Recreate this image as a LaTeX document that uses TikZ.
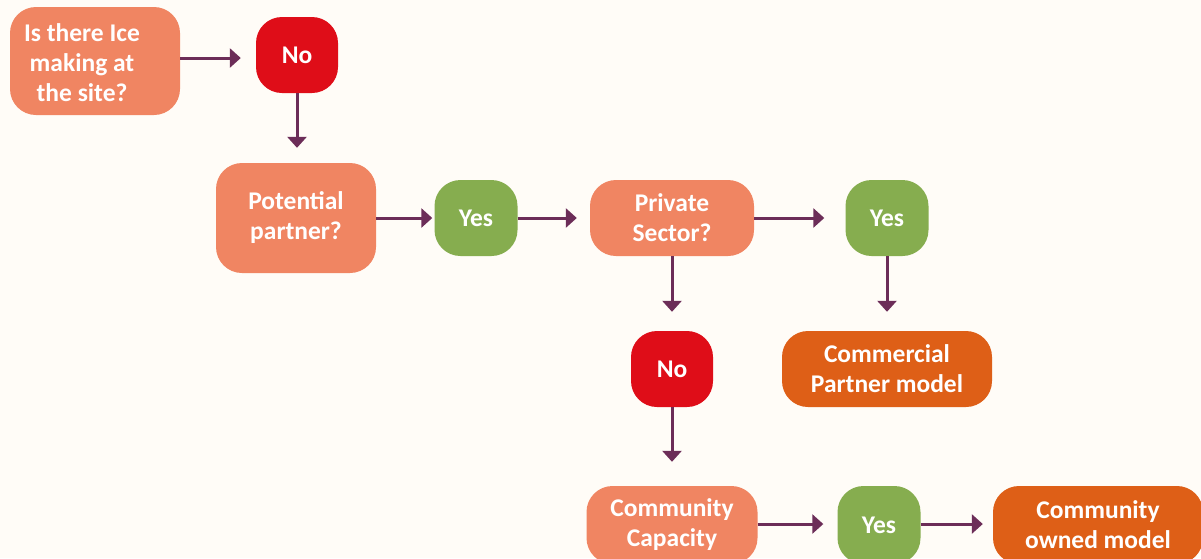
\documentclass[tikz,border=0pt]{standalone}
\usepackage{fontspec}
\setmainfont{Carlito}
\usetikzlibrary{arrows.meta,calc,positioning}

\definecolor{bgcol}{HTML}{FFFCF7}
\definecolor{salmon}{HTML}{F08562}
\definecolor{redbox}{HTML}{DF0D18}
\definecolor{greenbox}{HTML}{86AD4F}
\definecolor{orangebox}{HTML}{DE5F17}
\definecolor{arrowcol}{HTML}{6C2D58}

\begin{document}
\begin{tikzpicture}[x=1pt, y=-1pt,
    box/.style={rounded corners=26pt, inner sep=0pt, align=center, text=white,
                font=\fontsize{25.5}{30}\selectfont\bfseries},
    question/.style={box, fill=salmon},
    nobox/.style={box, fill=redbox, minimum width=82pt, minimum height=76pt},
    yesbox/.style={box, fill=greenbox, minimum width=83pt, minimum height=76pt},
    model/.style={box, fill=orangebox, minimum height=76pt},
    flow/.style={draw=arrowcol, line width=3pt, -{Triangle[length=11pt, width=19pt]}}]

    \useasboundingbox (0,0) rectangle (1201,558);
    \fill[bgcol] (0,0) rectangle (1201,558);

    \node[question, minimum width=170pt, minimum height=108pt] at (95, 61) (ice)
        {\begin{tabular}{@{}c@{}}\rule{0pt}{29pt}Is there Ice\\making at\\the site?\end{tabular}\kern26pt};
    \node[nobox] at (297, 55) (no1) {No};
    \node[question, minimum width=160pt, minimum height=110pt] at (296, 218) (partner) {Potential\\partner?};
    \node[yesbox] at (476, 218) (yes1) {Yes};
    \node[question, minimum width=164pt, minimum height=76pt] at (672, 218) (private) {Private\\Sector?};
    \node[yesbox] at (887, 218) (yes2) {Yes};
    \node[nobox] at (672, 369) (no2) {No};
    \node[model, minimum width=210pt] at (887, 369) (commercial) {Commercial\\Partner model};
    \node[question, minimum width=171pt, minimum height=78pt] at (672, 525) (capacity) {Community\\Capacity};
    \node[yesbox, minimum height=78pt] at (879, 525) (yes3) {Yes};
    \node[model, minimum width=210pt, minimum height=78pt] at (1098, 525) (owned) {Community\\owned model};

    % arrows stop short of the next box
    \draw[flow, shorten >=15pt] ([yshift=3pt]ice.east) -- ([yshift=3pt]ice.east -| no1.west);
    \draw[flow, shorten >=15pt] (no1.south) -- (no1.south |- partner.north);
    \draw[flow, shorten >=2pt] (partner.east) -- (yes1.west);
    \draw[flow, shorten >=13pt] (yes1.east) -- (private.west);
    \draw[flow, shorten >=21pt] (private.east) -- (yes2.west);
    \draw[flow, shorten >=19pt] (private.south) -- (no2.north);
    \draw[flow, shorten >=19pt] (yes2.south) -- (commercial.north);
    \draw[flow, shorten >=24pt] (no2.south) -- (capacity.north);
    \draw[flow, shorten >=14pt] ([yshift=1pt]capacity.east) -- ([yshift=1pt]capacity.east -| yes3.west);
    \draw[flow, shorten >=10pt] ([yshift=1pt]yes3.east) -- ([yshift=1pt]yes3.east -| owned.west);
\end{tikzpicture}
\end{document}
